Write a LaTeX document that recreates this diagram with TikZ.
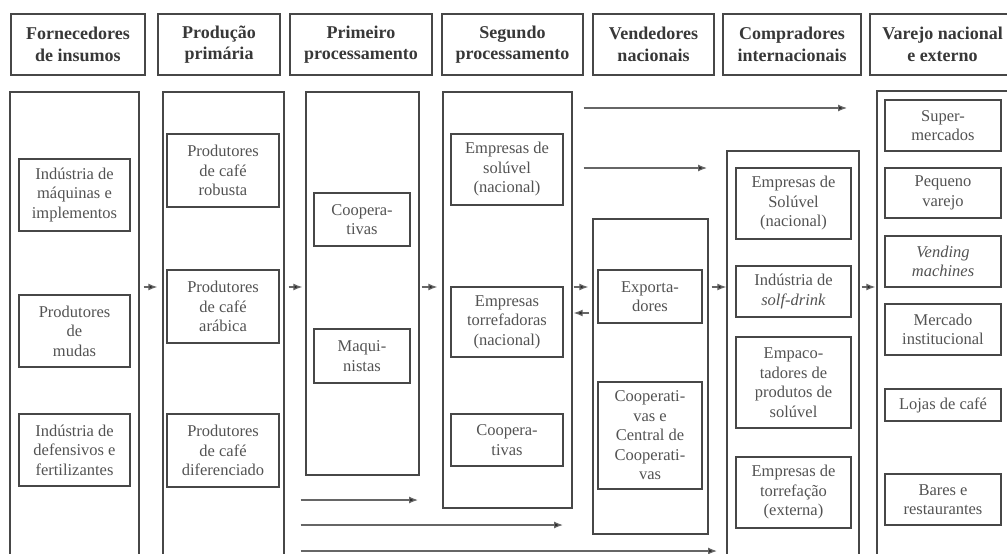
\documentclass[tikz,border=0pt]{standalone}
\usepackage{fontspec}
\setmainfont{Liberation Serif}
\usetikzlibrary{arrows.meta}

\tikzset{
  frame/.style={draw=black!72, line width=1.4pt},
  hdr/.style={frame, align=center, inner sep=1pt, text=black!78,
    font=\fontsize{18}{21.5}\selectfont\bfseries},
  stage/.style={frame},
  cell/.style={frame, align=center, inner sep=1pt, text=black!68,
    font=\fontsize{16.5}{19.5}\selectfont},
  flow/.style={draw=black!60, line width=1.2pt,
    -{Latex[length=9pt,width=7pt,fill=black!85]}},
}

\begin{document}
\begin{tikzpicture}[x=1pt,y=-1pt]
\useasboundingbox (0,0) rectangle (1007,554);

% cabecalhos
\node[hdr, minimum width=134, minimum height=61] (h1) at (78,44.5) {Fornecedores\\de insumos};
\node[hdr, minimum width=122, minimum height=61] (h2) at (219,44.5) {Produção\\primária};
\node[hdr, minimum width=142, minimum height=61] (h3) at (361,44.5) {Primeiro\\processamento};
\node[hdr, minimum width=141, minimum height=61] (h4) at (512.5,44.5) {Segundo\\processamento};
\node[hdr, minimum width=121, minimum height=61] (h5) at (653.5,44.5) {Vendedores\\nacionais};
\node[hdr, minimum width=138, minimum height=61] (h6) at (792,44.5) {Compradores\\internacionais};
\node[hdr, minimum width=145, minimum height=61] (h7) at (942.5,44.5) {Varejo nacional\\e externo};

% colunas
\node[stage, minimum width=129, minimum height=473] (c1) at (74.5,328.5) {};
\node[stage, minimum width=121, minimum height=473] (c2) at (223.5,328.5) {};
\node[stage, minimum width=113, minimum height=383] (c3) at (362.5,283.5) {};
\node[stage, minimum width=129, minimum height=416] (c4) at (507.5,300) {};
\node[stage, minimum width=115, minimum height=315] (c5) at (650.5,376.5) {};
\node[stage, minimum width=132, minimum height=414] (c6) at (793,358) {};
\node[stage, minimum width=138, minimum height=474] (c7) at (946,328) {};

% fornecedores de insumos
\node[cell, minimum width=111, minimum height=72] (ins1) at (74.5,195) {Indústria de\\máquinas e\\implementos};
\node[cell, minimum width=111, minimum height=72] (ins2) at (74.5,331) {Produtores\\de\\mudas};
\node[cell, minimum width=111, minimum height=72] (ins3) at (74.5,450) {Indústria de\\defensivos e\\fertilizantes};

% producao primaria
\node[cell, minimum width=112, minimum height=73] (pro1) at (223,170.5) {Produtores\\de café\\robusta};
\node[cell, minimum width=112, minimum height=73] (pro2) at (223,306.5) {Produtores\\de café\\arábica};
\node[cell, minimum width=112, minimum height=73] (pro3) at (223,450.5) {Produtores\\de café\\diferenciado};

% primeiro processamento
\node[cell, minimum width=96, minimum height=53] (pp1) at (362,219.5) {Coopera-\\tivas};
\node[cell, minimum width=96, minimum height=54] (pp2) at (362,356) {Maqui-\\nistas};

% segundo processamento
\node[cell, minimum width=112, minimum height=71] (sp1) at (507,169.5) {Empresas de\\solúvel\\(nacional)};
\node[cell, minimum width=112, minimum height=70] (sp2) at (507,322) {Empresas\\torrefadoras\\(nacional)};
\node[cell, minimum width=112, minimum height=52] (sp3) at (507,440) {Coopera-\\tivas};

% vendedores nacionais
\node[cell, minimum width=104, minimum height=53] (vn1) at (650,296.5) {Exporta-\\dores};
\node[cell, minimum width=104, minimum height=107] (vn2) at (650,435.5) {Cooperati-\\vas e\\Central de\\Cooperati-\\vas};

% compradores internacionais
\node[cell, minimum width=115, minimum height=71] (ci1) at (793.5,203.5) {Empresas de\\Solúvel\\(nacional)};
\node[cell, minimum width=115, minimum height=51] (ci2) at (793.5,291.5) {Indústria de\\\textit{solf-drink}};
\node[cell, minimum width=115, minimum height=91] (ci3) at (793.5,382.5) {Empaco-\\tadores de\\produtos de\\solúvel};
\node[cell, minimum width=115, minimum height=71] (ci4) at (793.5,492.5) {Empresas de\\torrefação\\(externa)};

% varejo
\node[cell, minimum width=116, minimum height=51] (va1) at (943,125.5) {Super-\\mercados};
\node[cell, minimum width=116, minimum height=50] (va2) at (943,193) {Pequeno\\varejo};
\node[cell, minimum width=116, minimum height=51] (va3) at (943,261.5) {\textit{Vending}\\\textit{machines}};
\node[cell, minimum width=116, minimum height=51] (va4) at (943,329.5) {Mercado\\institucional};
\node[cell, minimum width=116, minimum height=32] (va5) at (943,405) {Lojas de café};
\node[cell, minimum width=116, minimum height=51] (va6) at (943,499.5) {Bares e\\restaurantes};

% fluxos entre colunas
\coordinate (fl) at (0,287);
\coordinate (bk) at (0,313);
\draw[flow, shorten <=4pt, shorten >=5pt] (c1.east |- fl) -- (c2.west |- fl);
\draw[flow, shorten <=4pt, shorten >=3pt] (c2.east |- fl) -- (c3.west |- fl);
\draw[flow, shorten <=2pt, shorten >=5pt] (c3.east |- fl) -- (c4.west |- fl);
\draw[flow, shorten <=1pt, shorten >=4pt] (c4.east |- fl) -- (c5.west |- fl);
\draw[flow, shorten <=3pt, shorten >=1pt] (c5.west |- bk) -- (c4.east |- bk);
\draw[flow, shorten <=3pt, shorten >=0pt] (c5.east |- fl) -- (c6.west |- fl);
\draw[flow, shorten <=2pt, shorten >=1pt] (c6.east |- fl) -- (c7.west |- fl);

% fluxos longos
\coordinate (r1) at (847,108);
\coordinate (r2) at (707,168);
\coordinate (r3) at (418,500);
\coordinate (r4) at (563,525);
\coordinate (r5) at (717,551);
\draw[flow, shorten <=11pt] (c4.east |- r1) -- (r1);
\draw[flow, shorten <=11pt] (c4.east |- r2) -- (r2);
\draw[flow, shorten <=16pt] (c2.east |- r3) -- (r3);
\draw[flow, shorten <=16pt] (c2.east |- r4) -- (r4);
\draw[flow, shorten <=16pt] (c2.east |- r5) -- (r5);
\end{tikzpicture}
\end{document}
